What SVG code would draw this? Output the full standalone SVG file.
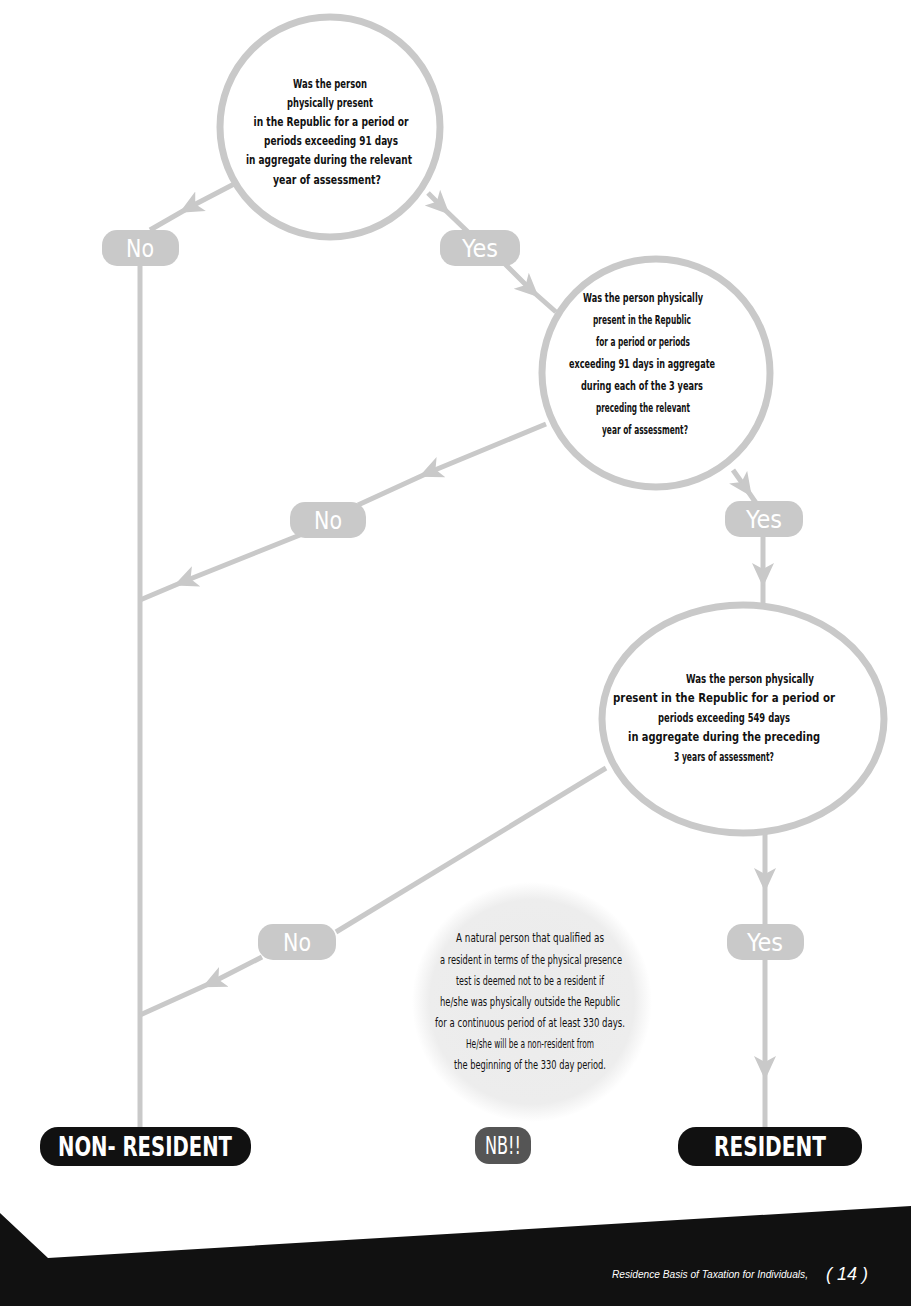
<svg xmlns="http://www.w3.org/2000/svg" width="911" height="1306" viewBox="0 0 911 1306">
<style>
.q{font-family:"Liberation Sans Narrow","DejaVu Sans Condensed","Liberation Sans",sans-serif;font-weight:bold;font-size:13px;fill:#111;text-anchor:middle}
.n{font-family:"Liberation Sans Narrow","DejaVu Sans Condensed","Liberation Sans",sans-serif;font-size:12.5px;fill:#111;text-anchor:middle}
.ring{fill:#fff;stroke:#c9c9c9;stroke-width:7}
.pill{fill:#c9c9c9}
.pt{font-family:"Liberation Sans Narrow","DejaVu Sans Condensed","Liberation Sans",sans-serif;font-size:25px;fill:#fff;text-anchor:middle}
.end{fill:#111}
.et{font-family:"Liberation Sans Narrow","DejaVu Sans Condensed","Liberation Sans",sans-serif;font-weight:bold;font-size:26px;fill:#fff;text-anchor:middle}
.c{fill:none;stroke:#c9c9c9;stroke-width:5}
.ca{fill:none;stroke:#c9c9c9;stroke-width:5;marker-mid:url(#ah)}
.ft{font-family:"Liberation Sans",Arial,sans-serif;fill:#fff}
</style>
<defs>
<marker id="ah" viewBox="0 0 24 24" refX="12" refY="12" markerWidth="24" markerHeight="24" markerUnits="userSpaceOnUse" orient="auto">
<path d="M0,1 L24,12 L0,23 L6,12 Z" fill="#c9c9c9"/>
</marker>
<radialGradient id="nbg" cx="0.5" cy="0.5" r="0.5">
<stop offset="0" stop-color="#ebebeb"/>
<stop offset="0.85" stop-color="#ededed"/>
<stop offset="1" stop-color="#ffffff"/>
</radialGradient>
</defs>
<rect width="911" height="1306" fill="#fff"/>

<g id="connectors">
<path class="ca" d="M236,183 L190,207 L150,230"/>
<path class="c" d="M140,265 L140,1128"/>
<path class="ca" d="M428,193 L441,206 L468,232"/>
<path class="ca" d="M505,264 L530,289 L556,312"/>
<path class="ca" d="M546,424 L430,472 L358,505"/>
<path class="ca" d="M300,535 L185,581 L140,600"/>
<path class="ca" d="M733,470 L745,487 L756,503"/>
<path class="ca" d="M763,536 L763,575 L763,605"/>
<path class="c" d="M606,768 L336,932"/>
<path class="ca" d="M262,957 L213,982 L140,1015"/>
<path class="ca" d="M765,832 L765,880 L765,925"/>
<path class="ca" d="M765,960 L765,1068 L765,1128"/>
</g>

<g id="q1">
<circle class="ring" cx="330" cy="127" r="110"/>
<text class="q" x="330" y="88" textLength="74" lengthAdjust="spacingAndGlyphs">Was the person</text>
<text class="q" x="330" y="107" textLength="86" lengthAdjust="spacingAndGlyphs">physically present</text>
<text class="q" x="331" y="126" textLength="155" lengthAdjust="spacingAndGlyphs">in the Republic for a period or</text>
<text class="q" x="331" y="145" textLength="134" lengthAdjust="spacingAndGlyphs">periods exceeding 91 days</text>
<text class="q" x="329" y="164" textLength="166" lengthAdjust="spacingAndGlyphs">in aggregate during the relevant</text>
<text class="q" x="327" y="184" textLength="108" lengthAdjust="spacingAndGlyphs">year of assessment?</text>
</g>

<g id="no1">
<rect class="pill" x="102" y="230" width="77" height="36" rx="15"/>
<text class="pt" x="140" y="257" textLength="28" lengthAdjust="spacingAndGlyphs">No</text>
</g>
<g id="yes1">
<rect class="pill" x="440" y="230" width="80" height="36" rx="15"/>
<text class="pt" x="480" y="257" textLength="36" lengthAdjust="spacingAndGlyphs">Yes</text>
</g>

<g id="q2">
<circle class="ring" cx="656" cy="373" r="114"/>
<text class="q" x="643" y="302" textLength="120" lengthAdjust="spacingAndGlyphs">Was the person physically</text>
<text class="q" x="642" y="324" textLength="98" lengthAdjust="spacingAndGlyphs">present in the Republic</text>
<text class="q" x="643" y="346" textLength="94" lengthAdjust="spacingAndGlyphs">for a period or periods</text>
<text class="q" x="642" y="368" textLength="146" lengthAdjust="spacingAndGlyphs">exceeding 91 days in aggregate</text>
<text class="q" x="642" y="390" textLength="122" lengthAdjust="spacingAndGlyphs">during each of the 3 years</text>
<text class="q" x="643" y="412" textLength="94" lengthAdjust="spacingAndGlyphs">preceding the relevant</text>
<text class="q" x="645" y="434" textLength="86" lengthAdjust="spacingAndGlyphs">year of assessment?</text>
</g>

<g id="no2">
<rect class="pill" x="290" y="502" width="76" height="36" rx="15"/>
<text class="pt" x="328" y="529" textLength="28" lengthAdjust="spacingAndGlyphs">No</text>
</g>
<g id="yes2">
<rect class="pill" x="725" y="501" width="78" height="36" rx="15"/>
<text class="pt" x="764" y="528" textLength="36" lengthAdjust="spacingAndGlyphs">Yes</text>
</g>

<g id="q3">
<ellipse class="ring" cx="743" cy="719" rx="141" ry="114"/>
<text class="q" x="750" y="683" textLength="128" lengthAdjust="spacingAndGlyphs">Was the person physically</text>
<text class="q" x="724" y="702" textLength="222" lengthAdjust="spacingAndGlyphs">present in the Republic for a period or</text>
<text class="q" x="724" y="722" textLength="132" lengthAdjust="spacingAndGlyphs">periods exceeding 549 days</text>
<text class="q" x="724" y="741" textLength="192" lengthAdjust="spacingAndGlyphs">in aggregate during the preceding</text>
<text class="q" x="724" y="761" textLength="100" lengthAdjust="spacingAndGlyphs">3 years of assessment?</text>
</g>

<g id="no3">
<rect class="pill" x="258" y="924" width="78" height="36" rx="15"/>
<text class="pt" x="297" y="951" textLength="28" lengthAdjust="spacingAndGlyphs">No</text>
</g>
<g id="yes3">
<rect class="pill" x="727" y="924" width="77" height="36" rx="15"/>
<text class="pt" x="765" y="951" textLength="36" lengthAdjust="spacingAndGlyphs">Yes</text>
</g>

<g id="nb-note">
<circle cx="532" cy="1002" r="120" fill="url(#nbg)"/>
<text class="n" x="530" y="942" textLength="148" lengthAdjust="spacingAndGlyphs">A natural person that qualified as</text>
<text class="n" x="531" y="964" textLength="182" lengthAdjust="spacingAndGlyphs">a resident in terms of the physical presence</text>
<text class="n" x="530" y="985" textLength="148" lengthAdjust="spacingAndGlyphs">test is deemed not to be a resident if</text>
<text class="n" x="530" y="1006" textLength="180" lengthAdjust="spacingAndGlyphs">he/she was physically outside the Republic</text>
<text class="n" x="530" y="1027" textLength="190" lengthAdjust="spacingAndGlyphs">for a continuous period of at least 330 days.</text>
<text class="n" x="530" y="1048" textLength="128" lengthAdjust="spacingAndGlyphs">He/she will be a non-resident from</text>
<text class="n" x="530" y="1069" textLength="152" lengthAdjust="spacingAndGlyphs">the beginning of the 330 day period.</text>
</g>

<g id="nb">
<rect x="475" y="1127" width="56" height="37" rx="14" fill="#555"/>
<text class="pt" x="503" y="1154" font-size="22" textLength="36" lengthAdjust="spacingAndGlyphs">NB!!</text>
</g>

<g id="non-resident">
<rect class="end" x="40" y="1127" width="211" height="39" rx="18"/>
<text class="et" x="145" y="1156" textLength="174" lengthAdjust="spacingAndGlyphs">NON- RESIDENT</text>
</g>
<g id="resident">
<rect class="end" x="678" y="1127" width="184" height="39" rx="18"/>
<text class="et" x="770" y="1156" textLength="112" lengthAdjust="spacingAndGlyphs">RESIDENT</text>
</g>

<g id="footer">
<polygon points="0,1213 48,1258 911,1206 911,1306 0,1306" fill="#111"/>
<text class="ft" x="612" y="1278" font-style="italic" font-size="11" textLength="196" lengthAdjust="spacingAndGlyphs">Residence Basis of Taxation for Individuals,</text>
<text class="ft" x="826" y="1280" font-style="italic" font-size="18">( 14 )</text>
</g>
</svg>
